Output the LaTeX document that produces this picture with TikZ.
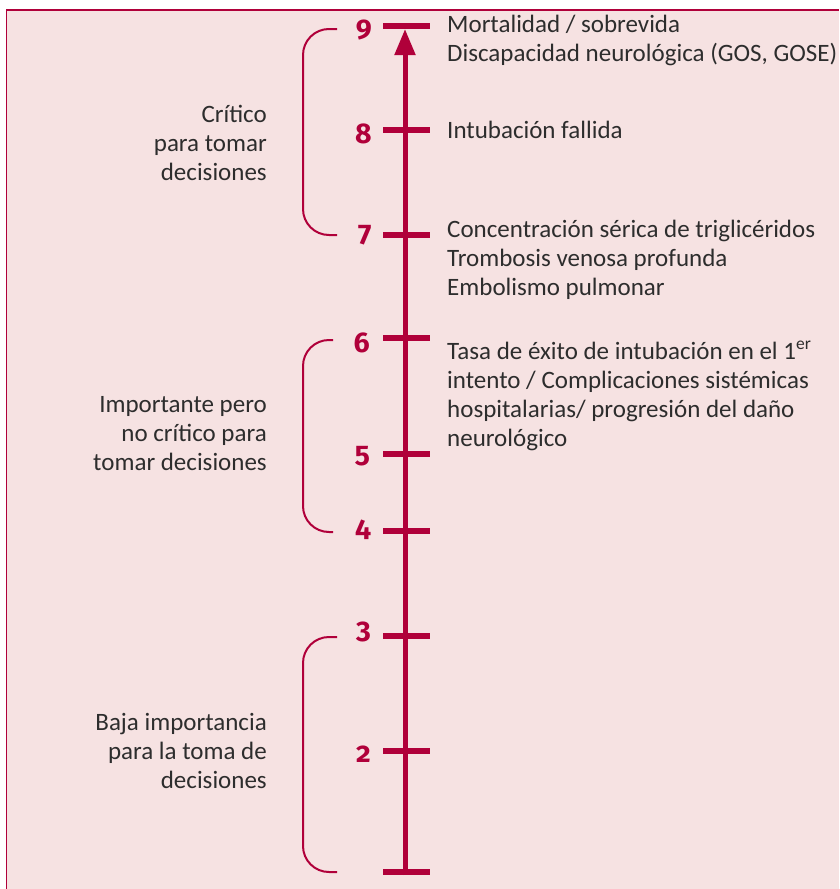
\documentclass[tikz,border=0pt]{standalone}
\usepackage{fontspec}
\setmainfont{Carlito}
\newfontfamily\numfont[Numbers=OldStyle]{Fira Sans}
\usetikzlibrary{arrows.meta}
\definecolor{crim}{RGB}{176,0,58}
\definecolor{bgpink}{RGB}{246,226,226}
\definecolor{txt}{RGB}{45,45,45}
\begin{document}
\begin{tikzpicture}[x=1pt,y=-1pt,
  tickmark/.style={draw=crim,line width=6pt},
  axisline/.style={draw=crim,line width=5pt,-{Triangle[width=20pt,length=26pt]}},
  bracketline/.style={draw=crim,line width=2pt,rounded corners=26pt},
  numlabel/.style={anchor=east,inner sep=0pt,text=crim,font=\numfont\fontsize{28.5}{28.5}\bfseries\selectfont},
  itemtext/.style={anchor=base west,inner sep=0pt,align=left,text=txt,font=\fontsize{25}{29}\selectfont},
  grouptext/.style={anchor=base east,inner sep=0pt,align=right,text=txt,font=\fontsize{25}{29}\selectfont},
]
\useasboundingbox (0,0) rectangle (839,889);
\fill[white] (0,0) rectangle (839,889);
\fill[bgpink] (6,9) rectangle (839,889);
\draw[crim,line width=1.6pt] (6.5,889) -- (6.5,9.8) -- (839,9.8);

% tick positions
\coordinate (t9) at (405,26);
\coordinate (t8) at (405,130);
\coordinate (t7) at (405,235);
\coordinate (t6) at (405,338);
\coordinate (t5) at (405,454);
\coordinate (t4) at (405,531);
\coordinate (t3) at (405,636);
\coordinate (t2) at (405,751);
\coordinate (t1) at (405,872);
\coordinate (base) at (405,875);
\coordinate (tip) at (405,29);

\draw[axisline] (base) -- (tip);
\foreach \t in {t9,t8,t7,t6,t5,t4,t3,t2,t1}
  \draw[tickmark] ([xshift=-22pt]\t) -- ([xshift=25pt]\t);

% numbers
\node[numlabel] (n9) at (372,30.5) {9};
\node[numlabel] (n8) at (372,133.5) {8};
\node[numlabel] (n7) at (372,235) {7};
\node[numlabel] (n6) at (370,343) {6};
\node[numlabel] (n5) at (370,456) {5};
\node[numlabel] (n4) at (371,530) {4};
\node[numlabel] (n3) at (371,632) {3};
\node[numlabel] (n2) at (371,754) {2};

% outcome texts (anchored at the baseline of the last line)
\node[itemtext] (o9) at (447,61) {Mortalidad / sobrevida\\Discapacidad neurológica (GOS, GOSE)};
\node[itemtext] (o8) at (447,138) {Intubación fallida};
\node[itemtext] (o7) at (447,295) {Concentración sérica de triglicéridos\\Trombosis venosa profunda\\Embolismo pulmonar};
\node[itemtext] (o6) at (447,446) {Tasa de éxito de intubación en el 1\textsuperscript{er}\\intento / Complicaciones sistémicas\\hospitalarias/ progresión del daño\\neurológico};

% brackets
\coordinate (b1t) at (337,29);
\coordinate (b1b) at (337,235);
\coordinate (b2t) at (333,340);
\coordinate (b2b) at (333,532);
\coordinate (b3t) at (337,637);
\coordinate (b3b) at (337,872);
\draw[bracketline] (b1t) -| (303,132) |- (b1b);
\draw[bracketline] (b2t) -| (303,436) |- (b2b);
\draw[bracketline] (b3t) -| (303,754) |- (b3b);

% group labels (anchored at the baseline of the last line)
\node[grouptext] (g1) at (267,180) {Crítico\\para tomar\\decisiones};
\node[grouptext] (g2) at (267,470) {Importante pero\\no crítico para\\tomar decisiones};
\node[grouptext] (g3) at (267,788) {Baja importancia\\para la toma de\\decisiones};
\end{tikzpicture}
\end{document}
